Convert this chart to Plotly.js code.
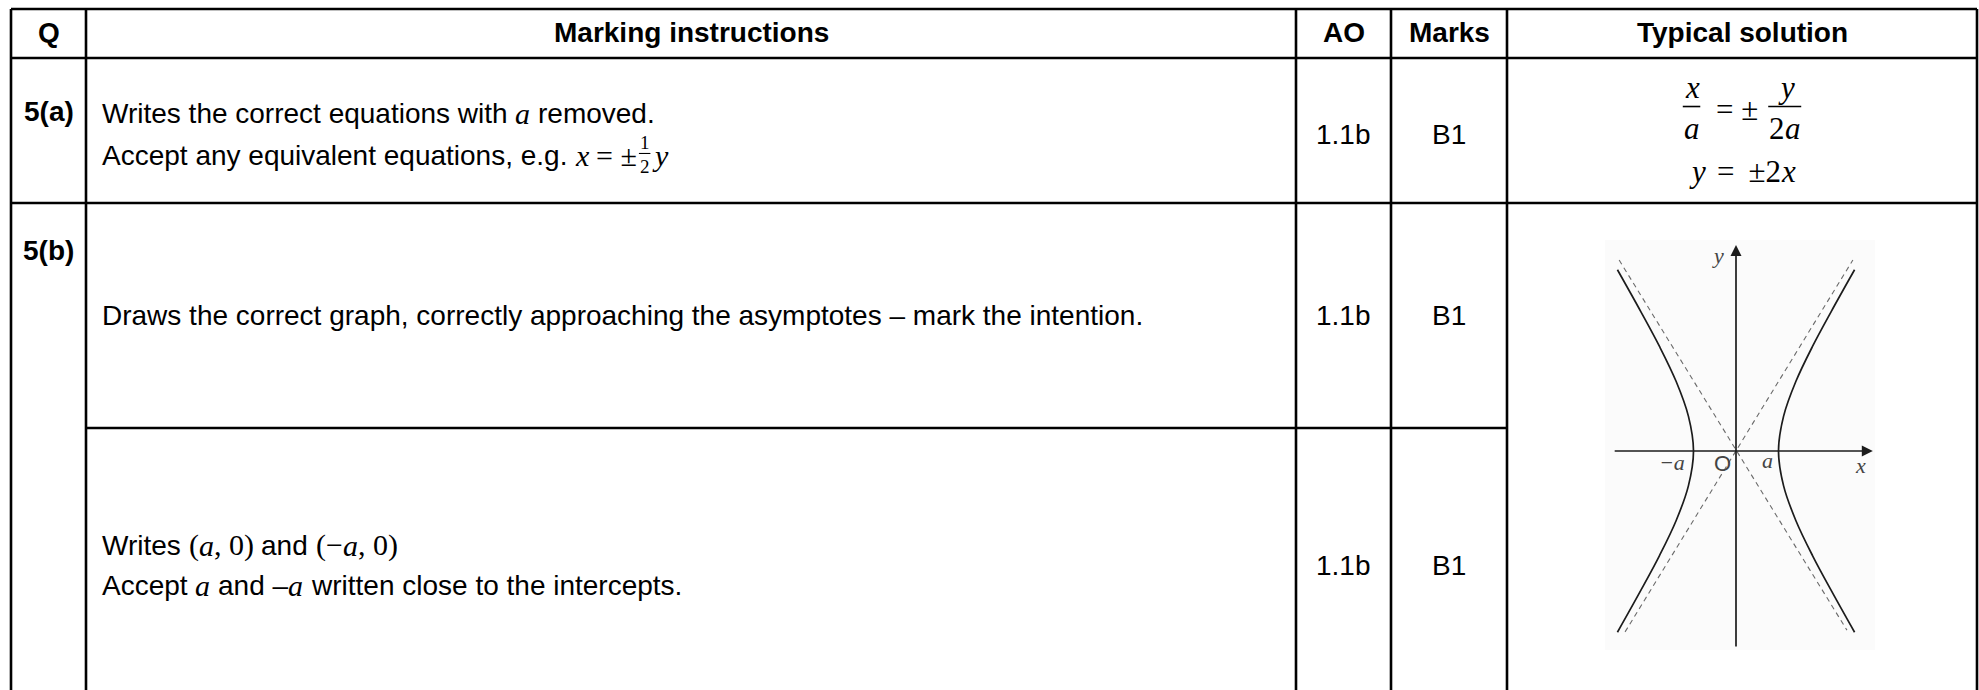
<!DOCTYPE html>
<html>
<head>
<meta charset="utf-8">
<script src="https://cdn.plot.ly/plotly-3.0.1.min.js"></script>
<style>
  html, body { margin: 0; padding: 0; background: #fff; }
  #chart { width: 1979px; height: 690px; }
</style>
</head>
<body>
<div id="chart"></div>
<script>
// ---------------------------------------------------------------
// Table content
// ---------------------------------------------------------------
const headers = ['Q', 'Marking instructions', 'AO', 'Marks', 'Typical solution'];
const questions = ['5(a)', '5(b)'];
const aoCodes = ['1.1b', '1.1b', '1.1b'];
const marks = ['B1', 'B1', 'B1'];

// Hyperbola sketch (a = 1)
const branchY = [-5.2, -4, -3, -2, -1, 0, 1, 2, 3, 4, 5.2];
const rightBranchX = [2.79, 2.24, 1.8, 1.41, 1.12, 1, 1.12, 1.41, 1.8, 2.24, 2.79];
const leftBranchX = [-2.79, -2.24, -1.8, -1.41, -1.12, -1, -1.12, -1.41, -1.8, -2.24, -2.79];

// Dashed asymptotes y = +-2x
const asymDownX = [-2.75, 2.61];
const asymDownY = [5.48, -5.14];
const asymUpX = [-2.61, 2.75];
const asymUpY = [-5.19, 5.48];

// Axis extents (tail, tip)
const axisX = [-2.89, 3.22];
const axisY = [-5.65, 5.91];

// ---------------------------------------------------------------
// Page geometry (pixels)
// ---------------------------------------------------------------
const W = 1979, H = 690;
const colX = [11, 86, 1296, 1391, 1507, 1977];
const rowY = [9, 58, 203, 428, 690];
const px = x => x / W;
const py = y => 1 - y / H;

const FONTS = {
    sans: { family: 'Liberation Sans', style: 'normal', weight: 'normal' },
    bold: { family: 'Liberation Sans', style: 'normal', weight: 'bold' },
    math: { family: 'Liberation Serif', style: 'italic', weight: 'normal' },
    up: { family: 'Liberation Serif', style: 'normal', weight: 'normal' }
};

const ctx = document.createElement('canvas').getContext('2d');
function measure(text, kind, size) {
    const f = FONTS[kind];
    ctx.font = f.style + ' ' + f.weight + ' ' + size + 'px "' + f.family + '"';
    return ctx.measureText(text).width;
}

const annotations = [];
const shapes = [];

function textAnn(text, kind, size, x, y, anchor) {
    const f = FONTS[kind];
    annotations.push({
        xref: 'paper', yref: 'paper',
        x: px(x), y: py(y),
        xanchor: anchor || 'left', yanchor: 'middle',
        text: text, showarrow: false,
        borderpad: 0, borderwidth: 0,
        font: { family: f.family, size: size, color: '#000', style: f.style, weight: f.weight }
    });
}

function seqWidth(parts) {
    let w = 0;
    parts.forEach(p => { w += partWidth(p); });
    return w;
}

function partWidth(p) {
    if (p.num) return Math.max(seqWidth(p.num), seqWidth(p.den)) + 6;
    return measure(p.t, p.k, p.s);
}

// lay out a run of text pieces (and stacked fractions) on one line
function drawSeq(parts, x, y, align) {
    if (align === 'center') x -= seqWidth(parts) / 2;
    parts.forEach(p => {
        const w = partWidth(p);
        if (p.num) {
            const cx = x + w / 2;
            const bar = y - p.s * 0.08;
            drawSeq(p.num, cx, bar - p.s * 0.6, 'center');
            drawSeq(p.den, cx, bar + p.s * 0.7, 'center');
            shapes.push({
                type: 'line', xref: 'paper', yref: 'paper',
                x0: px(x + 2), x1: px(x + w - 2), y0: py(bar), y1: py(bar),
                line: { color: '#000', width: p.s > 22 ? 1.6 : 1.1 }
            });
        } else {
            const trimmed = p.t.trimStart();
            const lead = measure(p.t.slice(0, p.t.length - trimmed.length), p.k, p.s);
            if (trimmed.trim().length) textAnn(trimmed.trimEnd(), p.k, p.s, x + lead, y, 'left');
        }
        x += w;
    });
}

const S = 28;   // body text size
const M = 30;   // inline maths size
const B = 28;   // bold header size

// ---------------------------------------------------------------
// Header row
// ---------------------------------------------------------------
headers.forEach((h, i) => {
    textAnn(h, 'bold', B, (colX[i] + colX[i + 1]) / 2, 33, 'center');
});

// Question labels
textAnn(questions[0], 'bold', B, (colX[0] + colX[1]) / 2, 112, 'center');
textAnn(questions[1], 'bold', B, (colX[0] + colX[1]) / 2, 250, 'center');

// AO and marks columns
const markRows = [134, 315, 565];
markRows.forEach((y, i) => {
    textAnn(aoCodes[i], 'sans', S, (colX[2] + colX[3]) / 2, y, 'center');
    textAnn(marks[i], 'sans', S, (colX[3] + colX[4]) / 2, y, 'center');
});

// Marking instructions
const tx = 102;
drawSeq([
    { k: 'sans', t: 'Writes the correct equations with ', s: S },
    { k: 'math', t: 'a', s: M },
    { k: 'sans', t: ' removed.', s: S }
], tx, 114);
drawSeq([
    { k: 'sans', t: 'Accept any equivalent equations, e.g. ', s: S },
    { k: 'math', t: 'x', s: M },
    { k: 'up', t: ' = ±', s: M },
    { num: [{ k: 'up', t: '1', s: 19 }], den: [{ k: 'up', t: '2', s: 19 }], s: 19 },
    { k: 'math', t: 'y', s: M }
], tx, 155);
drawSeq([
    { k: 'sans', t: 'Draws the correct graph, correctly approaching the asymptotes – mark the intention.', s: S }
], tx, 315);
drawSeq([
    { k: 'sans', t: 'Writes ', s: S },
    { k: 'up', t: '(', s: M },
    { k: 'math', t: 'a', s: M },
    { k: 'up', t: ', 0)', s: M },
    { k: 'sans', t: ' and ', s: S },
    { k: 'up', t: '(−', s: M },
    { k: 'math', t: 'a', s: M },
    { k: 'up', t: ', 0)', s: M }
], tx, 545);
drawSeq([
    { k: 'sans', t: 'Accept ', s: S },
    { k: 'math', t: 'a', s: M },
    { k: 'sans', t: ' and –', s: S },
    { k: 'math', t: 'a', s: M },
    { k: 'sans', t: ' written close to the intercepts.', s: S }
], tx, 585);

// Typical solution for 5(a)
const solX = (colX[4] + colX[5]) / 2;
const F = 31;
drawSeq([
    { num: [{ k: 'math', t: 'x', s: F }], den: [{ k: 'math', t: 'a', s: F }], s: F },
    { k: 'up', t: ' \u2009= ± ', s: F },
    { num: [{ k: 'math', t: 'y', s: F }], den: [{ k: 'up', t: '2', s: F }, { k: 'math', t: 'a', s: F }], s: F }
], solX, 109, 'center');
drawSeq([
    { k: 'math', t: 'y', s: F },
    { k: 'up', t: ' \u2009= \u2009±2', s: F },
    { k: 'math', t: 'x', s: F }
], solX, 171, 'center');

// ---------------------------------------------------------------
// Table rules
// ---------------------------------------------------------------
function rule(x0, y0, x1, y1) {
    shapes.push({
        type: 'line', xref: 'paper', yref: 'paper', layer: 'above',
        x0: px(x0), x1: px(x1), y0: py(y0), y1: py(y1),
        line: { color: '#000', width: 2.6 }
    });
}
rule(colX[0], rowY[0], colX[5], rowY[0]);
rule(colX[0], rowY[1], colX[5], rowY[1]);
rule(colX[0], rowY[2], colX[5], rowY[2]);
rule(colX[1], rowY[3], colX[4], rowY[3]);
colX.forEach(x => rule(x, rowY[0], x, rowY[4]));

// faint backdrop of the scanned sketch
shapes.push({
    type: 'rect', xref: 'paper', yref: 'paper', layer: 'below',
    x0: px(1605), x1: px(1875), y0: py(650), y1: py(240),
    fillcolor: '#fbfbfb', line: { width: 0 }
});

// ---------------------------------------------------------------
// Hyperbola sketch
// ---------------------------------------------------------------
const curve = { color: '#1c1c1c', width: 1.7, shape: 'spline' };
const dashed = { color: '#6a6a6a', width: 1.1, dash: '5px,4px' };
const data = [
    { x: rightBranchX, y: branchY, mode: 'lines', line: curve },
    { x: leftBranchX, y: branchY, mode: 'lines', line: curve },
    { x: asymDownX, y: asymDownY, mode: 'lines', line: dashed },
    { x: asymUpX, y: asymUpY, mode: 'lines', line: dashed }
];

// axes with arrow heads
function arrow(x, y, ax, ay) {
    annotations.push({
        xref: 'x', yref: 'y', axref: 'x', ayref: 'y',
        x: x, y: y, ax: ax, ay: ay, text: '',
        showarrow: true, arrowhead: 2, arrowsize: 1.3, arrowwidth: 1.7,
        arrowcolor: '#1c1c1c', standoff: 0
    });
}
arrow(axisX[1], 0, axisX[0], 0);
arrow(0, axisY[1], 0, axisY[0]);

function label(text, x, y, family, style) {
    annotations.push({
        xref: 'x', yref: 'y', x: x, y: y, text: text, showarrow: false,
        xanchor: 'center', yanchor: 'middle',
        font: { family: family, style: style, size: 22, color: '#444' }
    });
}
label('y', -0.42, 5.62, 'Liberation Serif', 'italic');
label('x', 2.92, -0.42, 'Liberation Serif', 'italic');
label('−a', -1.5, -0.33, 'Liberation Serif', 'italic');
label('O', -0.31, -0.36, 'Liberation Sans', 'normal');
label('a', 0.75, -0.28, 'Liberation Serif', 'italic');

// pixel placement of the sketch: origin at (1736, 451), 42.5 px per x unit, 34.85 px per y unit
const layout = {
    width: W, height: H,
    margin: { l: 0, r: 0, t: 0, b: 0 },
    paper_bgcolor: '#fff',
    plot_bgcolor: 'rgba(0,0,0,0)',
    showlegend: false,
    hovermode: false,
    font: { family: 'Liberation Sans', color: '#000' },
    xaxis: {
        domain: [px(1605), px(1875)],
        range: [(1605 - 1736) / 42.5, (1875 - 1736) / 42.5],
        visible: false, fixedrange: true
    },
    yaxis: {
        domain: [py(650), py(240)],
        range: [(451 - 650) / 34.85, (451 - 240) / 34.85],
        visible: false, fixedrange: true
    },
    shapes: shapes,
    annotations: annotations
};

Plotly.newPlot('chart', data, layout, { staticPlot: true, displayModeBar: false });
</script>
</body>
</html>
